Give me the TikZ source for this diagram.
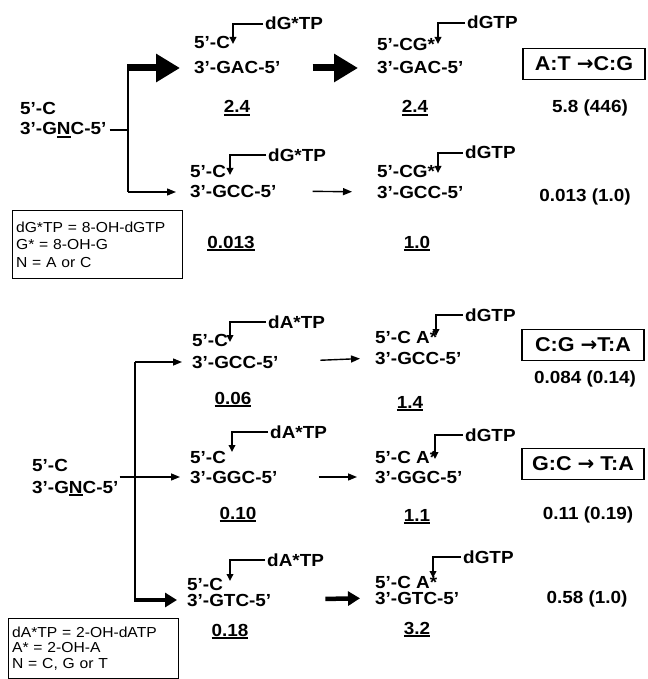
\documentclass[tikz,border=0pt]{standalone}
\usepackage{fontspec}
\setmainfont[FakeStretch=1.08]{Liberation Sans}
\newfontfamily\arrowfont{DejaVu Sans}
\usetikzlibrary{arrows.meta}
\newcommand{\ulbar}[1]{\setbox0=\hbox{#1}\rlap{\copy0}\rule[-3pt]{\wd0}{1.6pt}}
\newcommand{\mutto}{{\arrowfont →}}

\begin{document}
\begin{tikzpicture}[x=1pt, y=-1pt,
    seq/.style={anchor=base west, inner sep=0pt, font=\fontsize{17.5}{19}\selectfont\bfseries},
    val/.style={anchor=base, inner sep=0pt, font=\fontsize{17.5}{19}\selectfont\bfseries},
    mutbox/.style={draw, line width=1.4pt, minimum width=122pt, minimum height=31pt, inner sep=0pt, font=\fontsize{20}{22}\selectfont\bfseries},
    keybox/.style={draw, line width=1.2pt, anchor=north west, align=left, text width=163pt, inner xsep=3.5pt, inner ysep=0pt},
    feed/.style={line width=1.8pt, shorten <=2pt, -{Triangle[length=7pt, width=6.5pt]}},
    thinarr/.style={line width=1.4pt, -{Triangle[length=9pt, width=7pt]}},
    bigarr/.style={line width=7pt, -{Triangle[length=24pt, width=27pt]}},
    midarr/.style={line width=4.5pt, -{Triangle[length=12pt, width=14pt]}},
    link/.style={line width=1.8pt}]
    \useasboundingbox (0,0) rectangle (647,679);

    % 8-OH-dGTP: A:T -> C:G
    \node[seq] (tA1) at (20,115) {5'-C};
    \node[seq] (tA2) at (20,135) {3'-G\ulbar{N}C-5'};
    \coordinate (vAtop) at (128,68);
    \coordinate (vAbot) at (128,192);
    \draw[link] (vAtop) -- (vAbot);
    \draw[link, shorten <=3pt] (tA2.east) -- (tA2.east -| vAtop);

    \node[seq] (d1t) at (194,49) {5'-C};
    \node[seq] (d1b) at (194,74) {3'-GAC-5'};
    \node[seq] (g1) at (265,30) {dG*TP};
    \coordinate (i1) at (233,44);
    \draw[feed] (g1.west) -| (i1);
    \node[val] (n1) at (237,113) {\ulbar{2.4}};

    \node[seq] (d2t) at (377,51) {5'-CG*};
    \node[seq] (d2b) at (377,74) {3'-GAC-5'};
    \node[seq] (g2) at (467,29) {dGTP};
    \coordinate (i2) at (438,44);
    \draw[feed] (g2.west) -| (i2);
    \node[val] (n2) at (415,113) {\ulbar{2.4}};

    \draw[bigarr, shorten <=-1pt, shorten >=14pt] (vAtop) -- (vAtop -| d1b.west);
    \draw[bigarr, shorten <=32pt, shorten >=19pt] (d1b.east) -- (d2b.west);

    \node[mutbox] (m1) at (584,64) {A:T \mutto C:G};
    \node[val] (r1) at (590,113) {5.8 (446)};

    \node[seq] (d3t) at (190,178) {5'-C};
    \node[seq] (d3b) at (190,197) {3'-GCC-5'};
    \node[seq] (g3) at (268,161) {dG*TP};
    \coordinate (i3) at (230,175);
    \draw[feed] (g3.west) -| (i3);
    \node[val] (n3) at (231,248) {\ulbar{0.013}};

    \node[seq] (d4t) at (377,178) {5'-CG*};
    \node[seq] (d4b) at (377,198) {3'-GCC-5'};
    \node[seq] (g4) at (465,159) {dGTP};
    \coordinate (i4) at (438,173);
    \draw[feed] (g4.west) -| (i4);
    \node[val] (n4) at (417,248) {\ulbar{1.0}};

    \draw[thinarr, shorten >=14pt] (vAbot) -- (vAbot -| d3b.west);
    \draw[thinarr, shorten <=36pt, shorten >=25pt] (d3b.east) -- (d4b.west);
    \node[val] (r2) at (585,201) {0.013 (1.0)};

    \node[keybox, minimum height=68pt, font=\fontsize{14.5}{17.5}\selectfont] (key1) at (12,210)
        {dG*TP = 8-OH-dGTP\\G* = 8-OH-G\\N = A or C};

    % 2-OH-dATP: C:G -> T:A, G:C -> T:A
    \node[seq] (tB1) at (32,471) {5'-C};
    \node[seq] (tB2) at (32,493) {3'-G\ulbar{N}C-5'};
    \coordinate (vBtop) at (135,362);
    \coordinate (vBbot) at (135,600);
    \draw[link] (vBtop) -- (vBbot);

    \node[seq] (d5t) at (192,346) {5'-C};
    \node[seq] (d5b) at (192,368) {3'-GCC-5'};
    \node[seq] (g5) at (268,328) {dA*TP};
    \coordinate (i5) at (230,342);
    \draw[feed] (g5.west) -| (i5);
    \node[val] (n5) at (233,404) {\ulbar{0.06}};

    \node[seq] (d8t) at (375,343) {5'-C A*};
    \node[seq] (d8b) at (375,364) {3'-GCC-5'};
    \node[seq] (g8) at (465,321) {dGTP};
    \coordinate (i8) at (436,336);
    \draw[feed] (g8.west) -| (i8);
    \node[val] (n8) at (410,408) {\ulbar{1.4}};

    \draw[thinarr, shorten >=10pt] (vBtop) -- (vBtop -| d5b.west);
    \draw[thinarr, shorten <=42pt, shorten >=15pt] (d5b.east) -- (d8b.west);
    \node[mutbox] (m2) at (583,345) {C:G \mutto T:A};
    \node[val] (r5) at (585,383) {0.084 (0.14)};

    \node[seq] (d6t) at (190,463) {5'-C};
    \node[seq] (d6b) at (190,483) {3'-GGC-5'};
    \node[seq] (g6) at (270,438) {dA*TP};
    \coordinate (i6) at (232,452);
    \draw[feed] (g6.west) -| (i6);
    \node[val] (n6) at (238,519) {\ulbar{0.10}};

    \node[seq] (d9t) at (375,463) {5'-C A*};
    \node[seq] (d9b) at (375,483) {3'-GGC-5'};
    \node[seq] (g9) at (465,441) {dGTP};
    \coordinate (i9) at (435,459);
    \draw[feed] (g9.west) -| (i9);
    \node[val] (n9) at (417,521) {\ulbar{1.1}};

    \draw[thinarr, shorten <=1pt, shorten >=10pt] (tB2.east |- d6b.west) -- (d6b.west);
    \draw[thinarr, shorten <=41pt, shorten >=18pt] (d6b.east) -- (d9b.west);
    \node[mutbox] (m3) at (583,464) {G:C \mutto{} T:A};
    \node[val] (r6) at (588,519) {0.11 (0.19)};

    \node[seq] (d7t) at (187,590) {5'-C};
    \node[seq] (d7b) at (187,606) {3'-GTC-5'};
    \node[seq] (g7) at (267,566) {dA*TP};
    \coordinate (i7) at (230,581);
    \draw[feed] (g7.west) -| (i7);
    \node[val] (n7) at (230,636) {\ulbar{0.18}};

    \node[seq] (d10t) at (375,588) {5'-C A*};
    \node[seq] (d10b) at (375,604) {3'-GTC-5'};
    \node[seq] (g10) at (463,563) {dGTP};
    \coordinate (i10) at (433,578);
    \draw[feed] (g10.west) -| (i10);
    \node[val] (n10) at (417,634) {\ulbar{3.2}};

    \draw[midarr, shorten <=-1pt, shorten >=10pt] (vBbot) -- (vBbot -| d7b.west);
    \draw[midarr, shorten <=54pt, shorten >=15pt] (d7b.east) -- (d10b.west);
    \node[val] (r7) at (587,603) {0.58 (1.0)};

    \node[keybox, minimum height=60pt, font=\fontsize{14.5}{15.5}\selectfont] (key2) at (8,618)
        {dA*TP = 2-OH-dATP\\A* = 2-OH-A\\N = C, G or T};
\end{tikzpicture}
\end{document}
